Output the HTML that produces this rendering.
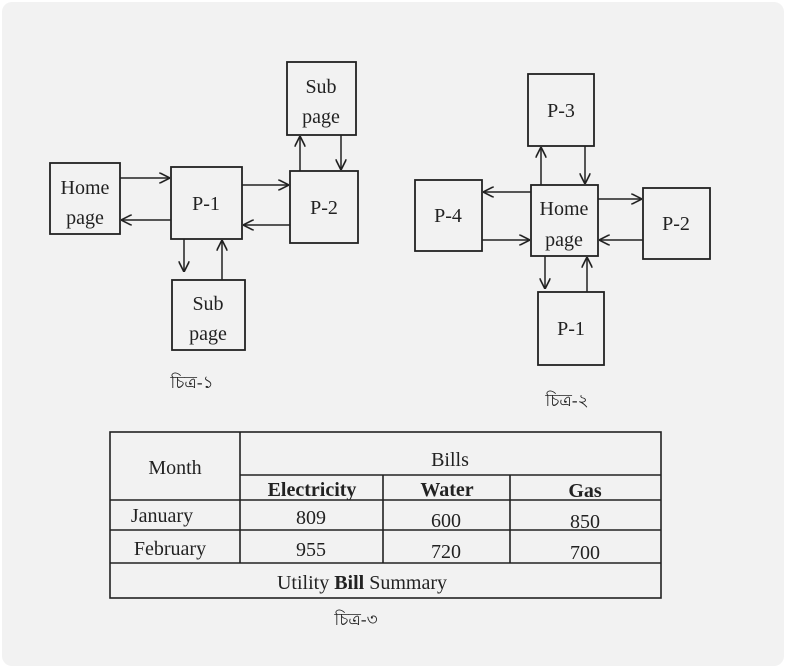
<!DOCTYPE html>
<html><head><meta charset="utf-8"><style>
html,body{margin:0;padding:0;background:#fff;width:786px;height:668px;overflow:hidden}
.card{position:absolute;left:2px;top:2px;width:782px;height:664px;background:#f2f2f2;border-radius:10px}
svg{position:absolute;left:0;top:0}
text{font-family:"Liberation Serif","Noto Serif CJK SC",serif;fill:#222}
</style></head><body>
<div class="card"></div>
<svg width="786" height="668" viewBox="0 0 786 668">
<defs>
<marker id="a" viewBox="0 0 10 10" refX="10" refY="5" markerWidth="11" markerHeight="11" orient="auto" markerUnits="userSpaceOnUse">
<path d="M0,0 L10,5 L0,10" fill="none" stroke="#222" stroke-width="1.5"/></marker>
</defs>
<g fill="none" stroke="#222" stroke-width="1.8">
<rect x="50" y="163" width="70" height="71"/>
<rect x="171" y="167" width="71" height="72"/>
<rect x="290" y="171" width="68" height="72"/>
<rect x="287" y="62" width="69" height="73"/>
<rect x="172" y="280" width="73" height="70"/>
<rect x="528" y="74" width="66" height="72"/>
<rect x="531" y="185" width="67" height="71"/>
<rect x="415" y="180" width="67" height="71"/>
<rect x="643" y="188" width="67" height="71"/>
<rect x="538" y="292" width="66" height="73"/>
</g>
<g stroke="#222" stroke-width="1.5" marker-end="url(#a)">
<line x1="120" y1="178" x2="170" y2="178"/>
<line x1="171" y1="220" x2="121" y2="220"/>
<line x1="242" y1="185" x2="289" y2="185"/>
<line x1="290" y1="225" x2="243" y2="225"/>
<line x1="300" y1="171" x2="300" y2="136"/>
<line x1="341" y1="135" x2="341" y2="170"/>
<line x1="184" y1="239" x2="184" y2="272"/>
<line x1="222" y1="280" x2="222" y2="240"/>
<line x1="541" y1="185" x2="541" y2="147"/>
<line x1="585" y1="146" x2="585" y2="184"/>
<line x1="531" y1="192" x2="483" y2="192"/>
<line x1="482" y1="240" x2="530" y2="240"/>
<line x1="598" y1="199" x2="642" y2="199"/>
<line x1="643" y1="240" x2="599" y2="240"/>
<line x1="545" y1="256" x2="545" y2="289"/>
<line x1="587" y1="292" x2="587" y2="257"/>
</g>
<g font-size="20" text-anchor="middle">
<text x="85" y="194">Home</text><text x="85" y="224">page</text>
<text x="206" y="210">P-1</text>
<text x="324" y="214">P-2</text>
<text x="321" y="93">Sub</text><text x="321" y="123">page</text>
<text x="208" y="310">Sub</text><text x="208" y="340">page</text>
<text x="561" y="117">P-3</text>
<text x="564" y="215">Home</text><text x="564" y="246">page</text>
<text x="448" y="222">P-4</text>
<text x="676" y="230">P-2</text>
<text x="571" y="335">P-1</text>
<text x="192" y="388" font-size="17">চিত্র-১</text>
<text x="567" y="406" font-size="17">চিত্র-২</text>
<text x="356" y="625" font-size="17">চিত্র-৩</text>
</g>
<g fill="none" stroke="#222" stroke-width="1.6">
<rect x="110" y="432" width="551" height="166"/>
<line x1="240" y1="432" x2="240" y2="563"/>
<line x1="240" y1="475" x2="661" y2="475"/>
<line x1="110" y1="500" x2="661" y2="500"/>
<line x1="110" y1="530" x2="661" y2="530"/>
<line x1="110" y1="563" x2="661" y2="563"/>
<line x1="383" y1="475" x2="383" y2="563"/>
<line x1="510" y1="475" x2="510" y2="563"/>
</g>
<g font-size="20" text-anchor="middle">
<text x="175" y="474">Month</text>
<text x="450" y="466">Bills</text>
<text x="312" y="496" font-weight="bold">Electricity</text>
<text x="447" y="496" font-weight="bold">Water</text>
<text x="585" y="497" font-weight="bold">Gas</text>
<text x="162" y="522">January</text>
<text x="311" y="524">809</text><text x="446" y="527">600</text><text x="585" y="528">850</text>
<text x="170" y="555">February</text>
<text x="311" y="556">955</text><text x="446" y="558">720</text><text x="585" y="559">700</text>
<text x="362" y="589">Utility <tspan font-weight="bold">Bill</tspan> Summary</text>
</g>
</svg>
</body></html>
